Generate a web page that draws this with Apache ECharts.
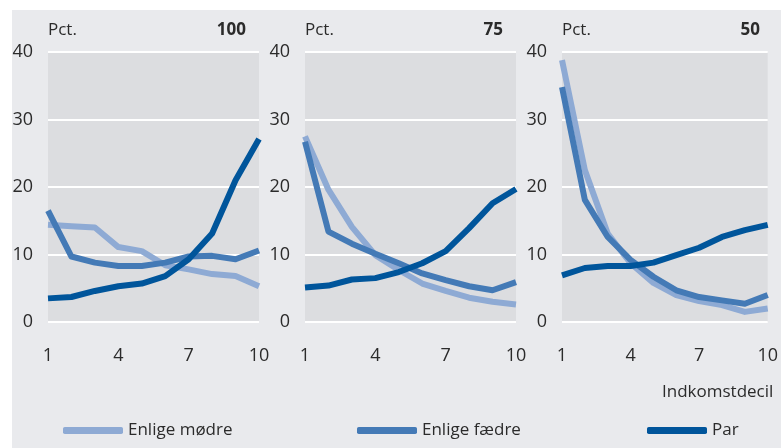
<!DOCTYPE html>
<html>
<head>
<meta charset="utf-8">
<script src="https://cdn.jsdelivr.net/npm/echarts@6/dist/echarts.min.js"></script>
<style>
  html, body { margin: 0; padding: 0; background: #fff; }
  #chart { width: 781px; height: 448px; }
</style>
</head>
<body>
<div id="chart"></div>
<script>
// income deciles
const deciles = ['1', '2', '3', '4', '5', '6', '7', '8', '9', '10']
const panelTitles = ['100', '75', '50']
const seriesNames = ['Enlige mødre', 'Enlige fædre', 'Par']

// panel "100"
const mothers100 = [14.4, 14.2, 14.0, 11.1, 10.5, 8.4, 7.8, 7.1, 6.8, 5.3]
const fathers100 = [16.5, 9.7, 8.8, 8.3, 8.3, 8.8, 9.7, 9.8, 9.3, 10.6]
const couples100 = [3.5, 3.7, 4.6, 5.3, 5.7, 6.8, 9.3, 13.1, 21.0, 27.1]

// panel "75"
const mothers75 = [27.5, 19.6, 14.1, 9.9, 7.7, 5.7, 4.6, 3.6, 3.0, 2.6]
const fathers75 = [26.7, 13.4, 11.6, 10.1, 8.7, 7.2, 6.2, 5.3, 4.7, 5.9]
const couples75 = [5.1, 5.4, 6.3, 6.5, 7.4, 8.7, 10.5, 13.9, 17.6, 19.7]

// panel "50"
const mothers50 = [38.8, 22.5, 13.1, 8.7, 5.8, 4.0, 3.1, 2.5, 1.5, 2.0]
const fathers50 = [34.8, 18.1, 12.6, 9.2, 6.7, 4.7, 3.7, 3.2, 2.7, 4.0]
const couples50 = [6.9, 8.0, 8.3, 8.3, 8.8, 9.9, 11.0, 12.6, 13.6, 14.4]

const yTicks = [0, 10, 20, 30, 40]

const colors = ['#8eaad4', '#447ab6', '#00559b']
const font = '"Liberation Sans Narrow", "Open Sans", sans-serif'
const textColor = '#2b2b2b'

const panels = [
  [mothers100, fathers100, couples100],
  [mothers75, fathers75, couples75],
  [mothers50, fathers50, couples50],
]
const gridLefts = [48, 305, 562]
const gridWidth = 211

const grids = gridLefts.map(left => ({
  left,
  top: 52,
  width: gridWidth,
  height: 270,
  show: true,
  backgroundColor: '#dcdde0',
  borderWidth: 0,
}))

const xAxes = gridLefts.map((_, i) => ({
  type: 'category',
  gridIndex: i,
  data: deciles,
  boundaryGap: false,
  axisLine: { show: false },
  axisTick: { show: false },
  axisLabel: {
    interval: 2,
    margin: 25,
    fontSize: 18,
    color: textColor,
    fontFamily: font,
  },
}))

const yAxes = gridLefts.map((_, i) => ({
  type: 'value',
  gridIndex: i,
  min: yTicks[0],
  max: yTicks[yTicks.length - 1],
  interval: 10,
  axisLine: { show: false },
  axisTick: { show: false },
  axisLabel: {
    margin: 15,
    fontSize: 18,
    color: textColor,
    fontFamily: font,
  },
  splitLine: { lineStyle: { color: '#ffffff', width: 2 } },
}))

const series = []
panels.forEach((panel, i) => {
  panel.forEach((values, k) => {
    series.push({
      name: seriesNames[k],
      type: 'line',
      xAxisIndex: i,
      yAxisIndex: i,
      data: values,
      symbol: 'none',
      z: 2 + k,
      lineStyle: { color: colors[k], width: 6, join: 'round' },
      itemStyle: { color: colors[k] },
    })
  })
})

const legendLefts = [63, 357, 647]
const legends = seriesNames.map((name, k) => ({
  data: [name],
  left: legendLefts[k],
  top: 422,
  padding: 0,
  icon: 'roundRect',
  itemWidth: 60,
  itemHeight: 7,
  itemGap: 0,
  textStyle: { fontSize: 17, color: textColor, fontFamily: font },
}))

const graphics = [
  { type: 'rect', silent: true, z: -10, shape: { x: 12, y: 10, width: 769, height: 438 }, style: { fill: '#e9eaed' } },
  {
    type: 'text', left: 662, top: 384,
    style: { text: 'Indkomstdecil', fontSize: 17, fill: textColor, fontFamily: font },
  },
]
gridLefts.forEach((left, i) => {
  graphics.push({
    type: 'text', x: left, y: 30,
    style: { text: 'Pct.', fontSize: 17, fill: textColor, fontFamily: font, verticalAlign: 'middle' },
  })
  graphics.push({
    type: 'text', x: left + gridWidth - 13, y: 30,
    style: { text: panelTitles[i], fontSize: 17, fontWeight: 'bold', fill: textColor, fontFamily: font, align: 'right', verticalAlign: 'middle' },
  })
})

const chart = echarts.init(document.getElementById('chart'), null, { renderer: 'canvas' })
chart.setOption({
  animation: false,
  backgroundColor: '#ffffff',
  grid: grids,
  xAxis: xAxes,
  yAxis: yAxes,
  legend: legends,
  graphic: graphics,
  series,
})
</script>
</body>
</html>
